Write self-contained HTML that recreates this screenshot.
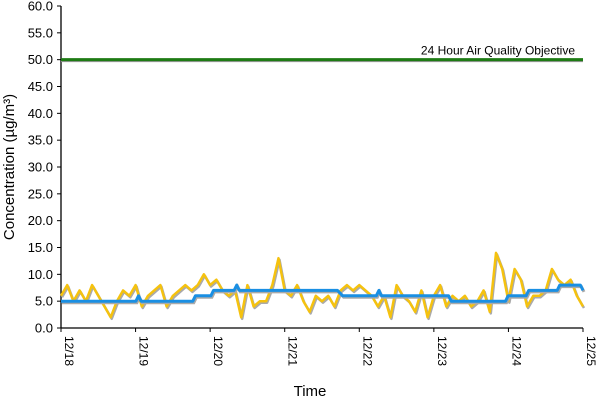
<!DOCTYPE html>
<html><head><meta charset="utf-8"><style>
body{margin:0;background:#fff}
svg{display:block;font-family:"Liberation Sans",Arial,sans-serif}
</style></head><body>
<svg id="chart" width="600" height="400" viewBox="0 0 600 400" xmlns="http://www.w3.org/2000/svg"></svg>
<script>
const yTicks=[0,5,10,15,20,25,30,35,40,45,50,55,60];
const xTickLabels=["12/18","12/19","12/20","12/21","12/22","12/23","12/24","12/25"];
const objective=50;
// hourly concentration, 2-hour steps, hours from 12/18 00:00
const hourlyValues=[6,8,5,7,5,8,6,4,2,5,7,6,
 8,4,6,7,8,4,6,7,8,7,8,10,
 8,9,7,6,7,2,8,4,5,5,8,13,
 7,6,8,5,3,6,5,6,4,7,8,7,
 8,7,6,4,6,2,8,6,5,3,7,2,
 6,8,4,6,5,6,4,5,7,3,14,11,
 5,11,9,4,6,6,7,11,9,8,9,6,4];
// 24-hour rolling average step values: [startHour,value]
const avgHours=[0,30,33,36,72,75,54,57,63,66,96,99,102,105,120,123,153,156,165,168];
const avgValues=[5,5,6,5,5,6,6,7,7,8,7,7,6,6,6,7,6,6,5,5];
const avgSteps=[[0,5],[29,5],[30,6],[31,5],[51,5],[52,6],[58,6],[59,7],[67,7],[68,8],[69,7],[107,7],[109,6],[122,6],[123,7],[124,6],[150,6],[151,5],[172,5],[173,6],[180,6],[181,7],[192,7],[193,8],[201,8],[202,7]];
const X0=61,X1=583,Y0=328,Y1=6;
const x=h=>X0+(X1-X0)*h/168;
const y=v=>Y0-(Y0-Y1)*v/60;
const svg=document.getElementById('chart');
const NS='http://www.w3.org/2000/svg';
function mk(t,a,p){const e=document.createElementNS(NS,t);for(const k in a)e.setAttribute(k,a[k]);(p||svg).appendChild(e);return e;}
// y axis
let ax=mk('line',{x1:X0,y1:Y1,x2:X0,y2:Y0,stroke:'#000','stroke-width':1.3});


let bx=mk('line',{x1:X0,y1:Y0,x2:X1,y2:Y0,stroke:'#000','stroke-width':1.3});


yTicks.forEach(v=>{
 mk('line',{x1:X0-4,y1:y(v),x2:X0,y2:y(v),stroke:'#000'});
 const t=mk('text',{x:X0-8,y:y(v)+4.5,'text-anchor':'end','font-size':13,fill:'#000'});
 t.textContent=v.toFixed(1);
 
 
});
xTickLabels.forEach((l,i)=>{
 const xx=x(i*24);
 mk('line',{x1:xx,y1:Y0,x2:xx,y2:Y0+4,stroke:'#000'});
 const t=mk('text',{transform:`translate(${xx+4},${Y0+8}) rotate(90)`,'font-size':12,fill:'#000'});
 t.textContent=l;
 
 
});
// objective line
mk('line',{x1:X0,y1:y(objective)+1.5,x2:X1,y2:y(objective)+1.5,stroke:'#999','stroke-width':2});
let ob=mk('line',{x1:X0,y1:y(objective),x2:X1,y2:y(objective),stroke:'#1e7b14','stroke-width':3});


let ot=mk('text',{x:575,y:y(objective)-5,'text-anchor':'end','font-size':12,fill:'#000'});
ot.textContent='24 Hour Air Quality Objective';


// hourly series
const hp=hourlyValues.map((v,i)=>`${x(i*2).toFixed(1)},${y(v).toFixed(1)}`).join(' ');
mk('polyline',{points:hp,fill:'none',stroke:'#aaa','stroke-width':2.5,transform:'translate(1,1.5)','stroke-linejoin':'round'});
let hl=mk('polyline',{points:hp,fill:'none',stroke:'#f5c20f','stroke-width':2.5,'stroke-linejoin':'round'});


// average series
const ap=avgSteps.map(p=>`${x(p[0]*168/202).toFixed(1)},${y(p[1]).toFixed(1)}`).join(' ');
mk('polyline',{points:ap,fill:'none',stroke:'#aaa','stroke-width':3,transform:'translate(1,1.5)'});
let al=mk('polyline',{points:ap,fill:'none',stroke:'#1a8fe3','stroke-width':3,'stroke-linejoin':'round'});


// titles
let xt=mk('text',{x:310,y:396,'text-anchor':'middle','font-size':15,fill:'#000'});
xt.textContent='Time';


let yt=mk('text',{transform:'translate(14,167) rotate(-90)','text-anchor':'middle','font-size':15,fill:'#000'});
yt.textContent='Concentration (µg/m³)';


</script>
</body></html>
